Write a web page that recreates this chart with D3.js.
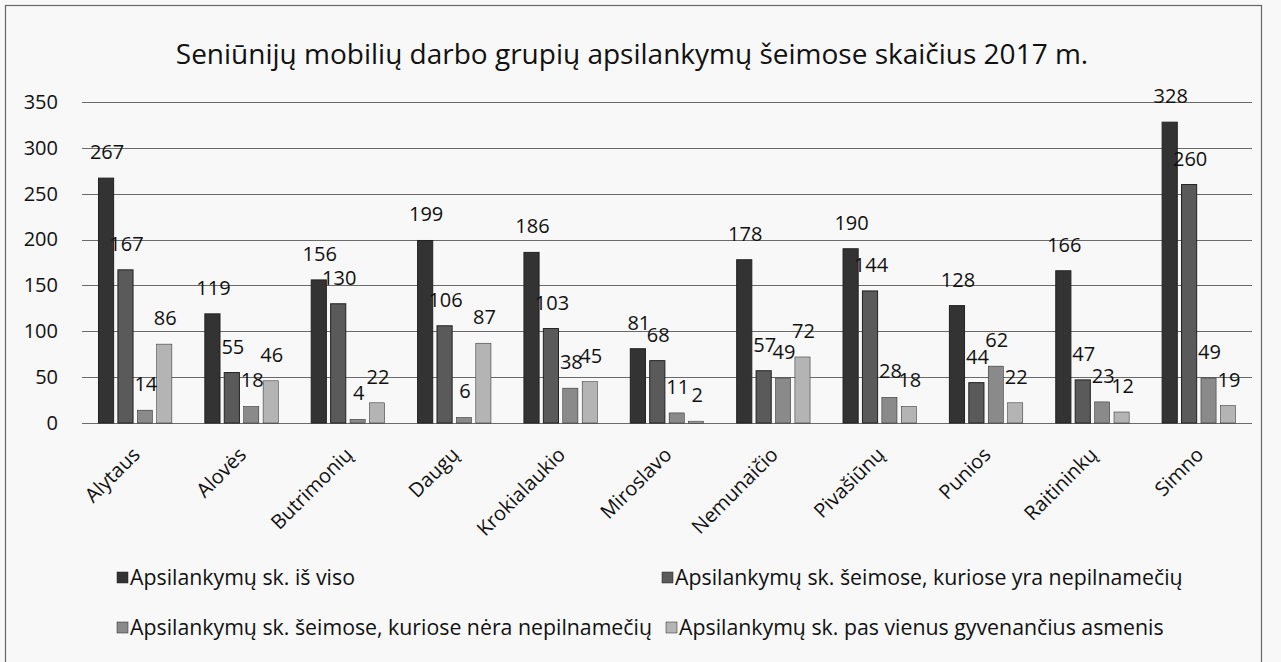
<!DOCTYPE html>
<html><head><meta charset="utf-8">
<script src="https://cdn.jsdelivr.net/npm/d3@7"></script>
<style>body{margin:0;background:#fff}svg{display:block}text{font-family:"Open Sans",sans-serif;fill:#111}</style>
</head><body><svg id="c" width="1281" height="662"></svg>
<script>
const title = "Seniūnijų mobilių darbo grupių apsilankymų šeimose skaičius 2017 m.";
const categories = ["Alytaus","Alovės","Butrimonių","Daugų","Krokialaukio","Miroslavo","Nemunaičio","Pivašiūnų","Punios","Raitininkų","Simno"];
const seriesNames = ["Apsilankymų sk. iš viso","Apsilankymų sk. šeimose, kuriose yra nepilnamečių","Apsilankymų sk. šeimose, kuriose nėra nepilnamečių","Apsilankymų sk. pas vienus gyvenančius asmenis"];
const totalVisits = [267,119,156,199,186,81,178,190,128,166,328];
const withMinors = [167,55,130,106,103,68,57,144,44,47,260];
const withoutMinors = [14,18,4,6,38,11,49,28,62,23,49];
const singlePersons = [86,46,22,87,45,2,72,18,22,12,19];
const yTicks = [0,50,100,150,200,250,300,350];
const seriesValues = [totalVisits, withMinors, withoutMinors, singlePersons];
const colors = ["#333333","#5a5a5a","#8a8a8a","#b4b4b4"];

const svg = d3.select("#c");
svg.append("rect").attr("width",1281).attr("height",662).attr("fill","#f8f8f8");
svg.append("rect").attr("x",5.5).attr("y",5.5).attr("width",1256).attr("height",720)
  .attr("fill","none").attr("stroke","#666").attr("stroke-width",1.2);

const x0 = d3.scaleBand().domain(categories).range([82,1252]);
const x1 = d3.scaleBand().domain(d3.range(4)).range([x0.bandwidth()*0.155, x0.bandwidth()*0.845]).paddingInner(0.22);
const y = d3.scaleLinear().domain([0,350]).range([423,102]);

svg.append("text").attr("x",632).attr("y",64).attr("text-anchor","middle").attr("font-size",28).text(title);

// gridlines + y axis
const yAxis = d3.axisLeft(y).tickValues(yTicks).tickSize(0).tickPadding(24);
const ga = svg.append("g").attr("transform","translate(82,0)").call(yAxis);
ga.select(".domain").remove();
ga.selectAll("text").attr("font-size",20).style("font-family","Open Sans").attr("fill","#111");
svg.append("g").selectAll("line").data(yTicks).join("line")
  .attr("x1",82).attr("x2",1252).attr("y1",d=>Math.round(y(d))+0.5).attr("y2",d=>Math.round(y(d))+0.5)
  .attr("stroke","#6a6a6a").attr("stroke-width",1);

// bars
const groups = svg.append("g").selectAll("g").data(categories).join("g")
  .attr("transform",d=>`translate(${x0(d)},0)`);
groups.each(function(cat,ci){
  const g = d3.select(this);
  seriesValues.forEach((vals,si)=>{
    const v = vals[ci];
    g.append("rect").attr("x",x1(si)).attr("width",x1.bandwidth())
      .attr("y",y(v)).attr("height",y(0)-y(v))
      .attr("fill",colors[si]).attr("stroke","#222").attr("stroke-width",si<2?1:0.5);
  });
  seriesValues.forEach((vals,si)=>{
    const v = vals[ci];
    g.append("text").attr("x",x1(si)+x1.bandwidth()/2+1).attr("y",y(v)-19)
      .attr("text-anchor","middle").attr("font-size",20).text(v);
  });
});

// x axis labels
const xAxis = d3.axisBottom(x0).tickSize(0).tickPadding(0);
const gx = svg.append("g").attr("transform","translate(0,423)").call(xAxis);
gx.select(".domain").remove();
gx.selectAll("text").attr("font-size",20).style("font-family","Open Sans").attr("fill","#111")
  .attr("text-anchor","end").attr("dy","0.35em")
  .attr("transform","translate(1,28) rotate(-45)");

// legend
const legendPos = [[117,585],[662,585],[117,635],[666,635]];
const lg = svg.append("g").selectAll("g").data(seriesNames).join("g")
  .attr("transform",(d,i)=>`translate(${legendPos[i][0]},${legendPos[i][1]})`);
lg.append("rect").attr("x",0).attr("y",-13).attr("width",11).attr("height",11)
  .attr("fill",(d,i)=>colors[i]).attr("stroke","#222").attr("stroke-width",0.5);
lg.append("text").attr("x",13).attr("y",0).attr("font-size",21.3).text(d=>d);
</script></body></html>
